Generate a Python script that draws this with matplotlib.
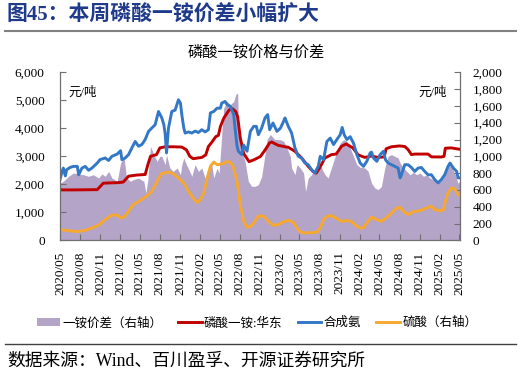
import numpy as np
import pandas as pd
import matplotlib
matplotlib.use("Agg")
import matplotlib.pyplot as plt
from matplotlib.lines import Line2D
from matplotlib.patches import Patch
from matplotlib.ticker import FuncFormatter, MultipleLocator

plt.rcParams['font.family'] = ['Liberation Serif', 'Noto Sans CJK SC', 'DejaVu Sans']

# ---------------- data (time in months since 2020-05) ----------------
t_map = [0, 2, 4, 5.6, 6.5, 7.5, 8.8, 9.5, 10.3, 11.5, 12.8, 13.2, 13.6, 14.5, 15, 15.8, 17, 18.3, 19,
         19.5, 20, 21.3, 21.9, 22.3, 22.8, 23.4, 23.8, 24.1, 24.6, 25.4, 25.9, 26.4, 26.7, 27.1, 27.6,
         28.4, 29.1, 30.1, 30.8, 31.5, 31.8, 32.8, 34.3, 35.3, 36.3, 37.3, 38, 38.5, 39, 39.8, 40.8,
         41.5, 42.3, 43, 44, 44.8, 45.8, 46.8, 47.8, 48.7, 49, 49.8, 51, 51.8, 52.3, 52.8, 53.3, 55.3,
         55.8, 57.3, 57.7, 57.9, 58.8, 59.8, 60.1]
v_map = [1800, 1800, 1805, 1810, 2040, 2050, 2060, 2080, 2290, 2330, 2350, 2700, 3000, 3060, 3300, 3340,
         3340, 3330, 3230, 3000, 2915, 2960, 3050, 3350, 3500, 3700, 3750, 4060, 4360, 4650, 4700, 4600,
         4400, 3640, 3100, 2810, 2870, 2990, 3220, 3480, 3510, 3390, 3320, 3180, 2940, 2640, 2460, 2400,
         2580, 2940, 3060, 3080, 3360, 3440, 3300, 3050, 2960, 3010, 2960, 2980, 3270, 3340, 3370, 3350,
         3240, 3060, 3080, 3080, 2980, 2975, 3000, 3290, 3300, 3260, 3250]

t_nh3 = [0, 0.3, 0.5, 0.8, 1, 1.5, 2, 2.6, 2.8, 3.3, 3.8, 4.3, 4.8, 5.6, 6, 6.8, 7.3, 7.8, 8.6, 9.1, 9.3,
         9.8, 10.3, 10.8, 11.3, 11.8, 12.3, 12.8, 13.3, 13.8, 14.3, 14.8, 15.3, 15.6, 15.8, 16, 16.3, 16.8,
         17.3, 17.8, 18.1, 18.3, 18.6, 18.8, 19.3, 19.8, 20.3, 20.8, 21.3, 21.8, 22.3, 22.6, 23.1, 23.6,
         24.1, 24.3, 24.8, 25.1, 25.6, 26.1, 26.3, 26.6, 26.8, 27.3, 27.6, 28.1, 28.6, 29.1, 29.5, 29.8,
         30.3, 30.8, 31.2, 31.5, 32, 32.6, 33.1, 33.6, 33.8, 34.3, 34.8, 35.3, 35.8, 36.3, 36.8, 37.3,
         37.8, 38.3, 38.8, 39.1, 39.6, 40.1, 40.6, 41.1, 41.6, 42.1, 42.4, 42.7, 43.1, 43.6, 44.1, 44.6,
         45.1, 45.6, 46.1, 46.6, 46.8, 47.1, 47.6, 48.1, 48.6, 48.9, 49.3, 49.8, 50.3, 50.8, 51.1, 51.3,
         51.8, 52.3, 52.8, 53.3, 53.8, 54.3, 54.8, 55.3, 55.8, 56.3, 56.8, 57.3, 57.8, 58.3, 58.6, 59.1,
         59.6, 59.8, 60.1]
v_nh3 = [2170, 2450, 2580, 2300, 2520, 2600, 2640, 2640, 2340, 2580, 2640, 2500, 2580, 2760, 2880, 2940,
         2850, 3000, 3080, 3200, 2880, 2940, 3060, 3300, 3530, 3360, 3420, 3600, 3890, 4010, 4130, 4600,
         4370, 4130, 3800, 3120, 4010, 4600, 4650, 5020, 4900, 4490, 4010, 3830, 3870, 3830, 3900, 3850,
         3950, 3870, 3950, 4550, 4600, 4720, 4720, 4900, 4960, 4850, 4780, 4490, 4010, 3360, 3180, 3060,
         3400, 3180, 3890, 4070, 4070, 3770, 4010, 4370, 4490, 3950, 4190, 3890, 4000, 4250, 4370, 4070,
         3830, 3300, 3000, 2940, 2760, 2700, 2520, 2400, 2640, 3000, 2880, 3530, 3650, 3420, 3600, 3770,
         4030, 3770, 3600, 3700, 3470, 3060, 2760, 2640, 2820, 3120, 3150, 2940, 2820, 3060, 3180, 2880,
         2760, 2700, 2640, 2580, 2230, 2340, 2700, 2700, 2600, 2460, 2580, 2600, 2460, 2340, 2340, 2170,
         2050, 2170, 2340, 2640, 2760, 2580, 2460, 2230, 2230]

t_acid = [0, 1.3, 2.6, 3.8, 4.8, 5.8, 6.8, 7.8, 8.6, 9.1, 9.6, 10.3, 11, 12, 13, 13.8, 14.6, 15.2, 15.9,
          16.5, 17, 17.8, 18.6, 19.3, 20, 20.6, 21.1, 21.6, 22, 22.6, 23.1, 23.6, 24.1, 24.6, 25.1, 25.6,
          26, 26.6, 27.1, 27.6, 28.1, 28.6, 29.1, 29.8, 30.6, 31.3, 32, 32.8, 33.5, 34.3, 35, 35.6, 36.1,
          36.8, 37.8, 38.6, 39.1, 39.6, 40.1, 40.8, 41.6, 42.3, 43.1, 43.8, 44.6, 45.1, 45.6, 46.1, 46.8,
          47.6, 48.3, 49, 49.8, 50.6, 51.1, 51.6, 52.3, 53, 53.8, 54.6, 55.3, 55.8, 56.3, 57.1, 57.6, 57.9,
          58.3, 58.8, 59.3, 59.8, 60.1]
v_acid = [127, 115, 103, 119, 147, 179, 246, 300, 300, 268, 275, 345, 424, 472, 524, 583, 702, 790, 805,
          812, 789, 742, 682, 583, 504, 450, 484, 563, 702, 881, 932, 900, 905, 915, 940, 925, 881, 702,
          424, 226, 155, 165, 206, 290, 286, 226, 179, 186, 218, 238, 218, 147, 99, 87, 91, 95, 147, 246,
          286, 294, 258, 226, 234, 225, 167, 147, 150, 206, 275, 246, 226, 266, 325, 385, 392, 345, 305,
          337, 350, 365, 393, 405, 365, 353, 360, 464, 563, 623, 615, 543, 531]

t_spread = [0, 0.5, 1.3, 2, 2.8, 3.5, 4.3, 5, 5.8, 6.3, 6.8, 7.3, 7.8, 8.6, 9.1, 9.6, 10, 10.6, 11, 11.8,
            12.6, 12.9, 13.2, 13.6, 14.1, 14.6, 15, 15.3, 15.8, 16, 16.5, 17, 17.6, 18.1, 18.3, 18.6, 19,
            19.6, 19.8, 20.3, 20.8, 21.3, 21.8, 22.3, 22.8, 23.1, 23.6, 23.9, 24.3, 24.6, 25.1, 25.6, 26.1,
            26.4, 26.7, 26.8, 27.1, 27.3, 27.8, 28.3, 28.8, 29.3, 29.8, 30.3, 30.8, 31.1, 31.6, 32.3, 33.1,
            33.6, 34.1, 34.6, 34.8, 35.3, 35.6, 36.1, 36.6, 36.9, 37.3, 37.8, 38.3, 38.8, 39.3, 39.8, 40.3,
            40.6, 41.1, 41.6, 42.1, 42.6, 43.1, 43.6, 44.1, 44.6, 45.1, 45.8, 46.3, 46.8, 47.3, 47.8, 48.3,
            48.8, 49.3, 49.8, 50.3, 50.8, 51.1, 51.6, 52.1, 52.6, 53.1, 53.6, 54.1, 54.6, 55.1, 55.6, 56.1,
            56.6, 57.1, 57.6, 57.9, 58.4, 58.9, 59.4, 59.8, 60.1]
v_spread = [682, 702, 762, 801, 790, 781, 762, 781, 742, 790, 762, 821, 742, 702, 920, 1000, 742, 702, 722,
            740, 702, 563, 720, 1119, 1020, 940, 1000, 1000, 900, 1020, 861, 821, 861, 781, 900, 980, 900,
            801, 762, 900, 821, 861, 742, 861, 900, 742, 861, 800, 1258, 1575, 1654, 1615, 1654, 1734, 1753,
            1337, 1139, 1060, 940, 702, 643, 643, 662, 760, 1020, 1198, 1260, 1198, 1198, 1180, 1099, 1000,
            861, 781, 900, 861, 801, 583, 742, 781, 861, 920, 861, 781, 742, 820, 940, 1060, 1158, 1198,
            1180, 1099, 1000, 900, 870, 861, 821, 682, 623, 603, 643, 861, 1000, 1020, 1000, 980, 920, 861,
            821, 781, 810, 781, 801, 762, 780, 742, 722, 682, 702, 742, 861, 900, 861, 781, 682, 702]

x_tick_labels = ['2020/05', '2020/08', '2020/11', '2021/02', '2021/05', '2021/08', '2021/11', '2022/02',
                 '2022/05', '2022/08', '2022/11', '2023/02', '2023/05', '2023/08', '2023/11', '2024/02',
                 '2024/05', '2024/08', '2024/11', '2025/02', '2025/05']

legend_labels = ['一铵价差（右轴）', '磷酸一铵:华东', '合成氨', '硫酸（右轴）']

START = pd.Timestamp('2020-05-01')


def to_dates(months):
    return START + pd.to_timedelta(np.asarray(months) * 30.4375, unit='D')


C_PURPLE = '#b3a4c8'
C_RED = '#c00000'
C_BLUE = '#3378c6'
C_ORANGE = '#f7a830'
C_NAVY = '#1f3a8a'

W, H = 521, 374
fig = plt.figure(figsize=(W / 100, H / 100), dpi=100)
ax = fig.add_axes([60 / W, 1 - 240.3 / H, 400 / W, (240.3 - 72.3) / H])
ax2 = ax.twinx()
ax.set_zorder(2)
ax2.set_zorder(1)
ax.patch.set_visible(False)

ax2.fill_between(to_dates(t_spread), v_spread, 0, color=C_PURPLE, lw=0)
ax2.plot(to_dates(t_acid), v_acid, color=C_ORANGE, lw=2.1, solid_joinstyle='round')
ax.plot(to_dates(t_map), v_map, color=C_RED, lw=2.1, solid_joinstyle='round')
ax.plot(to_dates(t_nh3), v_nh3, color=C_BLUE, lw=2.1, solid_joinstyle='round')

ax.set_ylim(0, 6000)
ax2.set_ylim(0, 2000)
ax.yaxis.set_major_locator(MultipleLocator(1000))
ax2.yaxis.set_major_locator(MultipleLocator(200))
fmt = FuncFormatter(lambda v, p: f'{v:,.0f}')
ax.yaxis.set_major_formatter(fmt)
ax2.yaxis.set_major_formatter(fmt)

ticks = pd.date_range('2020-05-01', '2025-05-01', freq='3MS')
ax.set_xticks(ticks)
ax.set_xticklabels(x_tick_labels, rotation=90)
ax.set_xlim(START, to_dates([60.1])[0])

spine_c = '#707070'
for a in (ax, ax2):
    a.spines['top'].set_visible(False)
    for s in a.spines.values():
        s.set_color(spine_c)
        s.set_linewidth(0.9)
ax2.spines['left'].set_visible(False)
ax2.spines['bottom'].set_visible(False)
ax.spines['right'].set_visible(False)

ax.tick_params(axis='y', direction='in', length=4, width=0.8, color=spine_c, labelsize=9.5, pad=11)
ax2.tick_params(axis='y', direction='in', length=4, width=0.8, color=spine_c, labelsize=9.5, pad=9)
ax.tick_params(axis='x', direction='in', length=4, width=0.8, color=spine_c, labelsize=9.5, pad=8)

cjk = ['Liberation Serif', 'Noto Sans CJK SC']
fig.text(68 / W, 1 - 93 / H, '元/吨', fontsize=9, va='center', ha='left', family=cjk)
fig.text(418 / W, 1 - 93 / H, '元/吨', fontsize=9, va='center', ha='left', family=cjk)

fig.text(7 / W, 1 - 16 / H, '图45：本周磷酸一铵价差小幅扩大', fontsize=15, fontweight='bold',
         color=C_NAVY, va='center', ha='left', family=cjk)
fig.add_artist(Line2D([5 / W, 516 / W], [1 - 31 / H] * 2, color='#808080', lw=1.5))
fig.text(256 / W, 1 - 52 / H, '磷酸一铵价格与价差', fontsize=11, va='center', ha='center', family=cjk)

handles = [Patch(facecolor=C_PURPLE, edgecolor='none'),
           Line2D([], [], color=C_RED, lw=2.1),
           Line2D([], [], color=C_BLUE, lw=2.1),
           Line2D([], [], color=C_ORANGE, lw=2.1)]
fig.legend(handles, legend_labels, loc='center', bbox_to_anchor=(257 / W, 1 - 323 / H), ncol=4,
           frameon=False, prop={'family': cjk, 'size': 9}, handlelength=1.9, handletextpad=0.2,
           columnspacing=1.2, handleheight=0.6)

fig.add_artist(Line2D([5 / W, 516 / W], [1 - 344 / H] * 2, color='#404040', lw=1.0))
fig.text(7 / W, 1 - 361 / H, '数据来源：Wind、百川盈孚、开源证券研究所', fontsize=12.8, va='center',
         ha='left', family=cjk)

fig.savefig('out.png', dpi=100)
